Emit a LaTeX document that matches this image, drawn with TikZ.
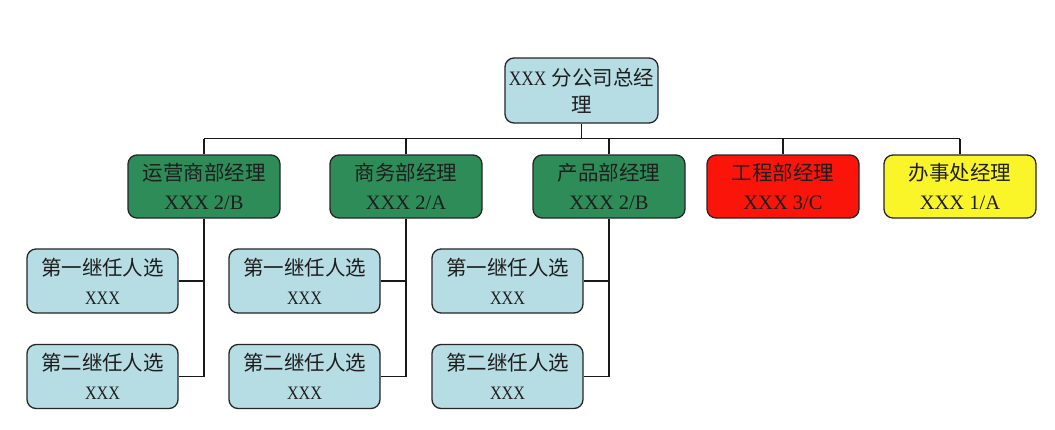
\documentclass[tikz,border=0pt]{standalone}
\usepackage{fontspec}
\usepackage{graphicx}
\setmainfont{Liberation Serif}
\newfontfamily\cjk{Noto Sans CJK SC}
\definecolor{boxblue}{RGB}{183,221,228}
\definecolor{boxgreen}{RGB}{46,140,88}
\definecolor{boxred}{RGB}{250,20,10}
\definecolor{boxyellow}{RGB}{250,245,40}
\definecolor{txt}{RGB}{30,30,30}
\newcommand{\smx}{{\fontsize{19}{29}\selectfont\scalebox{0.85}[1]{XXX}}}
\begin{document}
\begin{tikzpicture}[x=1pt,y=-1pt,
  box/.style={draw=black!85,line width=1.3pt,rounded corners=9pt,align=center,
    text=txt,inner sep=0pt,font=\fontsize{20.5}{29}\selectfont},
  topbox/.style={box,fill=boxblue,minimum width=153pt,minimum height=65pt,font=\fontsize{20.5}{27}\selectfont},
  dept/.style={box,minimum width=152pt,minimum height=63pt},
  cand/.style={box,fill=boxblue,minimum width=151pt,minimum height=64pt},
  conn/.style={line width=1.2pt,draw=black!90}]
\useasboundingbox (0,0) rectangle (1055,429);
\fill[white] (0,0) rectangle (1055,429);

\node[topbox] (top) at (581.5,90.5) {\scalebox{0.85}[1]{XXX} {\cjk 分公司总经}\\{\cjk 理}};

\node[dept,fill=boxgreen] (d1) at (204,186.5) {{\cjk 运营商部经理}\\XXX 2/B};
\node[dept,fill=boxgreen] (d2) at (406,186.5) {{\cjk 商务部经理}\\XXX 2/A};
\node[dept,fill=boxgreen] (d3) at (609,186.5) {{\cjk 产品部经理}\\XXX 2/B};
\node[dept,fill=boxred] (d4) at (783,186.5) {{\cjk 工程部经理}\\XXX 3/C};
\node[dept,fill=boxyellow] (d5) at (960,186.5) {{\cjk 办事处经理}\\XXX 1/A};

\node[cand] (c11) at (102.5,281) {{\cjk 第一继任人选}\\\smx};
\node[cand] (c12) at (102.5,376.5) {{\cjk 第二继任人选}\\\smx};
\node[cand] (c21) at (304.5,281) {{\cjk 第一继任人选}\\\smx};
\node[cand] (c22) at (304.5,376.5) {{\cjk 第二继任人选}\\\smx};
\node[cand] (c31) at (507.5,281) {{\cjk 第一继任人选}\\\smx};
\node[cand] (c32) at (507.5,376.5) {{\cjk 第二继任人选}\\\smx};

\coordinate (busL) at (204,138.5);
\coordinate (busR) at (960,138.5);
\draw[conn] (busL) -- (busR);
\draw[conn] (top.south) -- (top.south |- busL);
\foreach \d in {d1,d2,d3,d4,d5}{
  \draw[conn] (\d.north) -- (\d.north |- busL);
}
\foreach \i in {1,2,3}{
  \draw[conn] (d\i.south) -- (d\i.south |- c\i2.east) -- (c\i2.east);
  \draw[conn] (c\i1.east) -- (c\i1.east -| d\i.south);
}
\end{tikzpicture}
\end{document}
